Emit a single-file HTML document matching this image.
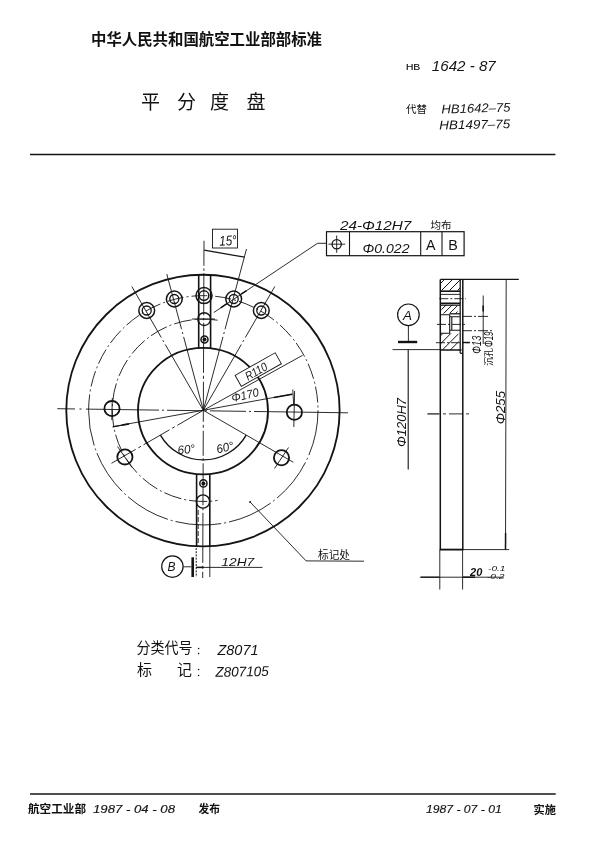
<!DOCTYPE html>
<html lang="zh"><head><meta charset="utf-8"><title>HB 1642-87 平分度盘</title>
<style>
html,body{margin:0;padding:0;background:#fff}
body{width:600px;height:863px;overflow:hidden;font-family:"Liberation Sans",sans-serif}
svg{display:block;font-family:"Liberation Sans",sans-serif;filter:grayscale(1)}
.cjk{font-family:"Liberation Sans","Noto Sans CJK SC",sans-serif}
</style></head><body>
<svg width="600" height="863" viewBox="0 0 600 863">
<rect width="600" height="863" fill="#fff"/>
<g><title>中华人民共和国航空工业部部标准</title><text class="cjk" x="91" y="44.6" font-size="15.4" font-weight="bold" fill="#111" textLength="231" lengthAdjust="spacingAndGlyphs">中华人民共和国航空工业部部标准</text></g>
<g><title>平分度盘</title><text class="cjk" x="141 177 210 246.5" y="108.5" font-size="19" fill="#111">平分度盘</text></g>
<text x="405.9" y="69.8" font-size="8.8" fill="#141414" stroke="#141414" stroke-width="0.15" textLength="14.4" lengthAdjust="spacingAndGlyphs">HB</text>
<g transform="translate(431.8 70.8)"><title>1642 - 87</title><text x="0" y="0" font-size="14" font-style="italic" fill="#141414" textLength="64" lengthAdjust="spacingAndGlyphs">1642 - 87</text></g>
<g><title>代替</title><text class="cjk" x="406" y="113.3" font-size="10.5" fill="#111" textLength="21" lengthAdjust="spacingAndGlyphs">代替</text></g>
<g transform="translate(441.5 113.4) rotate(-1.5)"><title>HB1642–75</title><text x="0" y="0" font-size="12.6" font-style="italic" fill="#141414" textLength="69" lengthAdjust="spacingAndGlyphs">HB1642–75</text></g>
<g transform="translate(439.3 129.4) rotate(-1)"><title>HB1497–75</title><text x="0" y="0" font-size="12.6" font-style="italic" fill="#141414" textLength="71" lengthAdjust="spacingAndGlyphs">HB1497–75</text></g>
<line x1="30" y1="154.6" x2="555.4" y2="154.6" stroke="#141414" stroke-width="1.5"/>
<line x1="30" y1="794" x2="555.7" y2="794" stroke="#141414" stroke-width="1.3"/>
<g><title>航空工业部</title><text class="cjk" x="28" y="813" font-size="11.5" font-weight="bold" fill="#111" textLength="58" lengthAdjust="spacingAndGlyphs">航空工业部</text></g>
<text x="93" y="812.6" font-size="10.6" fill="#141414" stroke="#141414" stroke-width="0.15" font-style="italic" textLength="82" lengthAdjust="spacingAndGlyphs">1987 - 04 - 08</text>
<g><title>发布</title><text class="cjk" x="198.5" y="813.2" font-size="11" font-weight="bold" fill="#111" textLength="21.5" lengthAdjust="spacingAndGlyphs">发布</text></g>
<text x="426" y="813.2" font-size="10.6" fill="#141414" stroke="#141414" stroke-width="0.15" font-style="italic" textLength="75.7" lengthAdjust="spacingAndGlyphs">1987 - 07 - 01</text>
<g><title>实施</title><text class="cjk" x="533.6" y="814.2" font-size="11" font-weight="bold" fill="#111" textLength="22.4" lengthAdjust="spacingAndGlyphs">实施</text></g>
<g><title>分类代号</title><text class="cjk" x="136.5" y="652.5" font-size="15" fill="#111" textLength="56" lengthAdjust="spacingAndGlyphs">分类代号</text></g>
<circle cx="198.6" cy="648.5" r="0.8" fill="#141414" stroke="#141414" stroke-width="0"/>
<circle cx="198.6" cy="653.6" r="0.8" fill="#141414" stroke="#141414" stroke-width="0"/>
<g transform="translate(217.5 654.5)"><title>Z8071</title><text x="0" y="0" font-size="14" font-style="italic" fill="#141414" textLength="41" lengthAdjust="spacingAndGlyphs">Z8071</text></g>
<g><title>标记</title><text class="cjk" x="137 177" y="675" font-size="15" fill="#111">标记</text></g>
<circle cx="198.6" cy="669.5" r="0.8" fill="#141414" stroke="#141414" stroke-width="0"/>
<circle cx="198.6" cy="675.5" r="0.8" fill="#141414" stroke="#141414" stroke-width="0"/>
<g transform="translate(215.4 676.8) rotate(-1)"><title>Z807105</title><text x="0" y="0" font-size="14" font-style="italic" fill="#141414" textLength="53.5" lengthAdjust="spacingAndGlyphs">Z807105</text></g>
<ellipse cx="202.95" cy="410.5" rx="136.65" ry="135.8" fill="none" stroke="#141414" stroke-width="1.85"/>
<ellipse cx="203" cy="411.1" rx="65" ry="63.2" fill="none" stroke="#141414" stroke-width="1.85"/>
<path d="M88.6 410.3A114.7 114.7 0 0 1 318 410.3" fill="none" stroke="#141414" stroke-width="0.9" stroke-dasharray="16 3 2 3"/>
<path d="M318 410.3A114.7 114.7 0 0 1 88.6 410.3" fill="none" stroke="#141414" stroke-width="0.9" stroke-dasharray="46 3 2 3"/>
<path d="M217.6 320.2A91.2 91.2 0 1 0 217.6 500.4" fill="none" stroke="#141414" stroke-width="0.9" stroke-dasharray="18 3 2 3"/>
<line x1="57.3" y1="408.7" x2="348" y2="412.8" stroke="#141414" stroke-width="0.9" stroke-dasharray="17.7 4.5 2 4.5 73 3 2 3 35 3 2 3 36 3 2 3 200"/>
<line x1="204" y1="240.8" x2="202.7" y2="578" stroke="#141414" stroke-width="0.9" stroke-dasharray="25 2.5 2.5 2.5 42 2.5 2.5 2.5 50 3 3 3 40 3 3 3"/>
<line x1="203.3" y1="410.3" x2="131.8" y2="286.5" stroke="#141414" stroke-width="0.9" stroke-dasharray="76 3 2 3 200"/>
<line x1="203.3" y1="410.3" x2="166.8" y2="274.1" stroke="#141414" stroke-width="0.9" stroke-dasharray="76 3 2 3 200"/>
<line x1="203.3" y1="410.3" x2="246.5" y2="249" stroke="#141414" stroke-width="0.9" stroke-dasharray="76 3 2 3 200"/>
<line x1="203.3" y1="410.3" x2="274.8" y2="286.5" stroke="#141414" stroke-width="0.9" stroke-dasharray="76 3 2 3 200"/>
<circle cx="146.7" cy="310.5" r="7.9" fill="none" stroke="#141414" stroke-width="1.5"/>
<circle cx="146.7" cy="310.5" r="4.5" fill="none" stroke="#141414" stroke-width="1.3"/>
<circle cx="174.3" cy="299" r="7.9" fill="none" stroke="#141414" stroke-width="1.5"/>
<circle cx="174.3" cy="299" r="4.5" fill="none" stroke="#141414" stroke-width="1.3"/>
<circle cx="233.7" cy="299" r="7.9" fill="none" stroke="#141414" stroke-width="1.5"/>
<circle cx="233.7" cy="299" r="4.5" fill="none" stroke="#141414" stroke-width="1.3"/>
<circle cx="261.3" cy="310.5" r="7.9" fill="none" stroke="#141414" stroke-width="1.5"/>
<circle cx="261.3" cy="310.5" r="4.5" fill="none" stroke="#141414" stroke-width="1.3"/>
<circle cx="204" cy="295.6" r="8" fill="none" stroke="#141414" stroke-width="1.5"/>
<circle cx="204" cy="295.6" r="4.8" fill="none" stroke="#141414" stroke-width="1.4"/>
<line x1="198.7" y1="274.6" x2="198.7" y2="348" stroke="#141414" stroke-width="1.6"/>
<line x1="210.6" y1="274.8" x2="210.6" y2="348.4" stroke="#141414" stroke-width="1.6"/>
<circle cx="204.2" cy="319.1" r="6.4" fill="none" stroke="#141414" stroke-width="1.4"/>
<line x1="192" y1="319" x2="215" y2="319" stroke="#141414" stroke-width="0.9"/>
<circle cx="204.5" cy="339.4" r="3.5" fill="none" stroke="#141414" stroke-width="1.5"/>
<circle cx="204.5" cy="339.4" r="2" fill="#141414" stroke="#141414" stroke-width="0"/>
<line x1="196.6" y1="474" x2="196.6" y2="546.2" stroke="#141414" stroke-width="1.6"/>
<line x1="209.8" y1="474.2" x2="209.8" y2="546" stroke="#141414" stroke-width="1.6"/>
<line x1="209.8" y1="546" x2="209.8" y2="577" stroke="#141414" stroke-width="0.9"/>
<line x1="196.2" y1="548" x2="196.2" y2="577" stroke="#141414" stroke-width="1.0" stroke-dasharray="2 1.2"/>
<line x1="198.2" y1="510" x2="198.2" y2="545" stroke="#141414" stroke-width="0.9" stroke-dasharray="5 2"/>
<circle cx="203" cy="501.5" r="6.6" fill="none" stroke="#141414" stroke-width="1.4"/>
<circle cx="203.4" cy="483.4" r="3.6" fill="none" stroke="#141414" stroke-width="1.5"/>
<circle cx="203.4" cy="483.4" r="2" fill="#141414" stroke="#141414" stroke-width="0"/>
<circle cx="112" cy="408.6" r="7.6" fill="none" stroke="#141414" stroke-width="1.8"/>
<circle cx="294.4" cy="412.2" r="7.6" fill="none" stroke="#141414" stroke-width="1.8"/>
<circle cx="124.9" cy="456.9" r="7.6" fill="none" stroke="#141414" stroke-width="1.8"/>
<circle cx="281.5" cy="457.8" r="7.6" fill="none" stroke="#141414" stroke-width="1.8"/>
<line x1="112.3" y1="398" x2="111.8" y2="420" stroke="#141414" stroke-width="0.9"/>
<line x1="294.6" y1="391" x2="293.8" y2="427" stroke="#141414" stroke-width="0.9"/>
<line x1="203.3" y1="410.3" x2="111.5" y2="463.3" stroke="#141414" stroke-width="0.9" stroke-dasharray="30 3 3 3"/>
<line x1="203.3" y1="410.3" x2="293.4" y2="462.3" stroke="#141414" stroke-width="0.9"/>
<line x1="274.5" y1="468.5" x2="288.5" y2="447.5" stroke="#141414" stroke-width="0.9"/>
<line x1="117.5" y1="446.5" x2="132" y2="467.5" stroke="#141414" stroke-width="0.9"/>
<path d="M160.4 435.1A49.5 49.5 0 0 0 246.2 435.1" fill="none" stroke="#141414" stroke-width="1.4"/>
<g transform="translate(178 454.3) rotate(-6)"><title>60°</title><text x="0" y="0" font-size="12" font-style="italic" fill="#141414" textLength="17.5" lengthAdjust="spacingAndGlyphs">60°</text></g>
<g transform="translate(217.5 453.6) rotate(-14)"><title>60°</title><text x="0" y="0" font-size="12" font-style="italic" fill="#141414" textLength="17.5" lengthAdjust="spacingAndGlyphs">60°</text></g>
<line x1="203.3" y1="410.3" x2="302.6" y2="355.3" stroke="#141414" stroke-width="0.9"/>
<g transform="translate(241.3 386.3) rotate(-29.4)"><rect x="0" y="-12.6" width="46" height="12.6" fill="#fff" stroke="#141414" stroke-width="0.9"/><g transform="translate(8.5 -1.6)"><title>R110</title><text x="0" y="0" font-size="12" font-style="italic" fill="#141414" textLength="23.4" lengthAdjust="spacingAndGlyphs">R110</text></g></g>
<line x1="112.8" y1="426.7" x2="292.3" y2="394.1" stroke="#141414" stroke-width="0.9"/>
<line x1="112.7" y1="426.9" x2="122" y2="425.2" stroke="#141414" stroke-width="1.1"/>
<line x1="122" y1="425.2" x2="129" y2="423.9" stroke="#141414" stroke-width="1.7"/>
<line x1="292.3" y1="394.2" x2="274" y2="397.5" stroke="#141414" stroke-width="1.4"/>
<line x1="292.8" y1="389.5" x2="293.6" y2="404" stroke="#141414" stroke-width="0.9"/>
<g transform="translate(232.5 402.2) rotate(-13)"><title>Φ170</title><text x="0" y="0" font-size="11.8" font-style="italic" fill="#141414" textLength="27.6" lengthAdjust="spacingAndGlyphs">Φ170</text></g>
<rect x="212.5" y="229.2" width="25" height="18.8" fill="none" stroke="#141414" stroke-width="0.9"/>
<g transform="translate(219.5 245.8) rotate(-3)"><title>15°</title><text x="0" y="0" font-size="14" font-style="italic" fill="#141414" textLength="17.4" lengthAdjust="spacingAndGlyphs">15°</text></g>
<line x1="204.2" y1="250.2" x2="244.6" y2="257.2" stroke="#141414" stroke-width="1.25"/>
<line x1="326.5" y1="243.3" x2="317.5" y2="243.3" stroke="#141414" stroke-width="0.9"/>
<line x1="317.5" y1="243.3" x2="213.8" y2="312.5" stroke="#141414" stroke-width="0.9"/>
<line x1="241.1" y1="294.2" x2="246.5" y2="290.6" stroke="#141414" stroke-width="1.5"/>
<line x1="226.9" y1="303.6" x2="220.7" y2="307.8" stroke="#141414" stroke-width="1.5"/>
<circle cx="250.1" cy="502" r="1" fill="#141414" stroke="#141414" stroke-width="0"/>
<line x1="250.1" y1="502" x2="306.1" y2="560.9" stroke="#141414" stroke-width="0.9"/>
<line x1="306.1" y1="560.9" x2="364" y2="561.2" stroke="#141414" stroke-width="0.9"/>
<g><title>标记处</title><text class="cjk" x="318" y="558.8" font-size="11" fill="#111" textLength="32" lengthAdjust="spacingAndGlyphs">标记处</text></g>
<circle cx="172.4" cy="566.6" r="10.7" fill="none" stroke="#141414" stroke-width="1.2"/>
<g transform="translate(167.5 571.4)"><title>B</title><text x="0" y="0" font-size="12" font-style="italic" fill="#141414">B</text></g>
<line x1="183.1" y1="566.8" x2="191.5" y2="566.8" stroke="#141414" stroke-width="0.9"/>
<line x1="192.7" y1="557.3" x2="192.7" y2="577" stroke="#141414" stroke-width="2.6"/>
<line x1="196.5" y1="567.4" x2="262.5" y2="567.4" stroke="#141414" stroke-width="0.9"/>
<line x1="196.2" y1="567.4" x2="203.6" y2="567.4" stroke="#141414" stroke-width="1.5"/>
<g transform="translate(220.3 565.6)"><title>12H7</title><text x="1" y="0" font-size="10.4" font-style="italic" fill="#141414" textLength="33" lengthAdjust="spacingAndGlyphs">12H7</text></g>
<rect x="326.5" y="231.7" width="137.6" height="24" fill="none" stroke="#141414" stroke-width="1.2"/>
<line x1="349.5" y1="231.7" x2="349.5" y2="255.7" stroke="#141414" stroke-width="1.1"/>
<line x1="420.7" y1="231.7" x2="420.7" y2="255.7" stroke="#141414" stroke-width="1.1"/>
<line x1="442" y1="231.7" x2="442" y2="255.7" stroke="#141414" stroke-width="1.1"/>
<circle cx="336.7" cy="244.2" r="4.6" fill="none" stroke="#141414" stroke-width="1.3"/>
<line x1="328.5" y1="244.2" x2="345.2" y2="244.2" stroke="#141414" stroke-width="0.9"/>
<line x1="336.7" y1="235.5" x2="336.7" y2="252.8" stroke="#141414" stroke-width="0.9"/>
<g transform="translate(362 252.6)"><title>Φ0.022</title><text x="0.5" y="0" font-size="13.7" font-style="italic" fill="#141414" textLength="47" lengthAdjust="spacingAndGlyphs">Φ0.022</text></g>
<g transform="translate(426 250.3)"><title>A</title><text x="0" y="0" font-size="14.3" fill="#141414" textLength="9.5" lengthAdjust="spacingAndGlyphs">A</text></g>
<g transform="translate(449 250.3)"><title>B</title><text x="-0.8" y="0" font-size="14.3" fill="#141414">B</text></g>
<g transform="translate(339.9 229.5)"><title>24-Φ12H7</title><text x="0" y="0" font-size="12" font-style="italic" fill="#141414" textLength="71.4" lengthAdjust="spacingAndGlyphs">24-Φ12H7</text></g>
<g><title>均布</title><text class="cjk" x="430.5" y="229.3" font-size="10.5" fill="#111" textLength="21" lengthAdjust="spacingAndGlyphs">均布</text></g>
<line x1="440.3" y1="279.4" x2="440.3" y2="549.6" stroke="#141414" stroke-width="1.5"/>
<line x1="462.8" y1="279.4" x2="462.8" y2="549.6" stroke="#141414" stroke-width="1.5"/>
<line x1="440.3" y1="279.4" x2="518.8" y2="279.4" stroke="#141414" stroke-width="1.25"/>
<line x1="439.7" y1="549.6" x2="463.4" y2="549.6" stroke="#141414" stroke-width="1.85"/>
<line x1="462.8" y1="549.6" x2="509.2" y2="549.6" stroke="#141414" stroke-width="0.9"/>
<line x1="460.2" y1="279.4" x2="460.2" y2="353.3" stroke="#141414" stroke-width="1.25"/>
<line x1="460.2" y1="353.3" x2="462.8" y2="353.3" stroke="#141414" stroke-width="1.25"/>
<clipPath id="c115"><rect x="440.3" y="279.4" width="19.9" height="11.3"/></clipPath><g clip-path="url(#c115)"><line x1="401.3" y1="290.7" x2="412.6" y2="279.4" stroke="#141414" stroke-width="1.0"/><line x1="409.3" y1="290.7" x2="420.6" y2="279.4" stroke="#141414" stroke-width="1.0"/><line x1="417.3" y1="290.7" x2="428.6" y2="279.4" stroke="#141414" stroke-width="1.0"/><line x1="425.3" y1="290.7" x2="436.6" y2="279.4" stroke="#141414" stroke-width="1.0"/><line x1="433.3" y1="290.7" x2="444.6" y2="279.4" stroke="#141414" stroke-width="1.0"/><line x1="441.3" y1="290.7" x2="452.6" y2="279.4" stroke="#141414" stroke-width="1.0"/><line x1="449.3" y1="290.7" x2="460.6" y2="279.4" stroke="#141414" stroke-width="1.0"/><line x1="457.3" y1="290.7" x2="468.6" y2="279.4" stroke="#141414" stroke-width="1.0"/><line x1="465.3" y1="290.7" x2="476.6" y2="279.4" stroke="#141414" stroke-width="1.0"/><line x1="473.3" y1="290.7" x2="484.6" y2="279.4" stroke="#141414" stroke-width="1.0"/><line x1="481.3" y1="290.7" x2="492.6" y2="279.4" stroke="#141414" stroke-width="1.0"/><line x1="489.3" y1="290.7" x2="500.6" y2="279.4" stroke="#141414" stroke-width="1.0"/><line x1="497.3" y1="290.7" x2="508.6" y2="279.4" stroke="#141414" stroke-width="1.0"/></g>
<line x1="440.3" y1="291.2" x2="460.2" y2="291.2" stroke="#141414" stroke-width="1.6"/>
<line x1="440.3" y1="294.4" x2="460.2" y2="294.4" stroke="#141414" stroke-width="0.9"/>
<line x1="439.3" y1="298.7" x2="466" y2="298.7" stroke="#141414" stroke-width="0.9" stroke-dasharray="9 2 2 2"/>
<line x1="440.3" y1="303.3" x2="460.2" y2="303.3" stroke="#141414" stroke-width="1.6"/>
<clipPath id="c120"><rect x="441.3" y="304.5" width="16.2" height="9.3"/></clipPath><g clip-path="url(#c120)"><line x1="401.3" y1="313.8" x2="410.6" y2="304.5" stroke="#141414" stroke-width="1.0"/><line x1="407.3" y1="313.8" x2="416.6" y2="304.5" stroke="#141414" stroke-width="1.0"/><line x1="413.3" y1="313.8" x2="422.6" y2="304.5" stroke="#141414" stroke-width="1.0"/><line x1="419.3" y1="313.8" x2="428.6" y2="304.5" stroke="#141414" stroke-width="1.0"/><line x1="425.3" y1="313.8" x2="434.6" y2="304.5" stroke="#141414" stroke-width="1.0"/><line x1="431.3" y1="313.8" x2="440.6" y2="304.5" stroke="#141414" stroke-width="1.0"/><line x1="437.3" y1="313.8" x2="446.6" y2="304.5" stroke="#141414" stroke-width="1.0"/><line x1="443.3" y1="313.8" x2="452.6" y2="304.5" stroke="#141414" stroke-width="1.0"/><line x1="449.3" y1="313.8" x2="458.6" y2="304.5" stroke="#141414" stroke-width="1.0"/><line x1="455.3" y1="313.8" x2="464.6" y2="304.5" stroke="#141414" stroke-width="1.0"/><line x1="461.3" y1="313.8" x2="470.6" y2="304.5" stroke="#141414" stroke-width="1.0"/><line x1="467.3" y1="313.8" x2="476.6" y2="304.5" stroke="#141414" stroke-width="1.0"/><line x1="473.3" y1="313.8" x2="482.6" y2="304.5" stroke="#141414" stroke-width="1.0"/><line x1="479.3" y1="313.8" x2="488.6" y2="304.5" stroke="#141414" stroke-width="1.0"/><line x1="485.3" y1="313.8" x2="494.6" y2="304.5" stroke="#141414" stroke-width="1.0"/><line x1="491.3" y1="313.8" x2="500.6" y2="304.5" stroke="#141414" stroke-width="1.0"/><line x1="497.3" y1="313.8" x2="506.6" y2="304.5" stroke="#141414" stroke-width="1.0"/></g>
<line x1="440.3" y1="305.2" x2="460.2" y2="305.2" stroke="#141414" stroke-width="1.25"/>
<path d="M440.3 314.7H449.7V333.3H440.3 M449.7 316.7H460 M449.7 330.2H460 M451.8 316.7V330.2" fill="none" stroke="#141414" stroke-width="1.1"/>
<line x1="450" y1="313.8" x2="460.2" y2="313.8" stroke="#141414" stroke-width="1.25"/>
<clipPath id="c124"><rect x="440.3" y="333.3" width="18.2" height="16.7"/></clipPath><g clip-path="url(#c124)"><line x1="402.3" y1="350" x2="419" y2="333.3" stroke="#141414" stroke-width="1.0"/><line x1="410.3" y1="350" x2="427" y2="333.3" stroke="#141414" stroke-width="1.0"/><line x1="418.3" y1="350" x2="435" y2="333.3" stroke="#141414" stroke-width="1.0"/><line x1="426.3" y1="350" x2="443" y2="333.3" stroke="#141414" stroke-width="1.0"/><line x1="434.3" y1="350" x2="451" y2="333.3" stroke="#141414" stroke-width="1.0"/><line x1="442.3" y1="350" x2="459" y2="333.3" stroke="#141414" stroke-width="1.0"/><line x1="450.3" y1="350" x2="467" y2="333.3" stroke="#141414" stroke-width="1.0"/><line x1="458.3" y1="350" x2="475" y2="333.3" stroke="#141414" stroke-width="1.0"/><line x1="466.3" y1="350" x2="483" y2="333.3" stroke="#141414" stroke-width="1.0"/><line x1="474.3" y1="350" x2="491" y2="333.3" stroke="#141414" stroke-width="1.0"/><line x1="482.3" y1="350" x2="499" y2="333.3" stroke="#141414" stroke-width="1.0"/><line x1="490.3" y1="350" x2="507" y2="333.3" stroke="#141414" stroke-width="1.0"/><line x1="498.3" y1="350" x2="515" y2="333.3" stroke="#141414" stroke-width="1.0"/></g>
<line x1="440.3" y1="350" x2="461.5" y2="350" stroke="#141414" stroke-width="1.5"/>
<line x1="392.5" y1="349.6" x2="440.3" y2="349.6" stroke="#141414" stroke-width="0.9"/>
<line x1="462" y1="316.4" x2="488" y2="316.4" stroke="#141414" stroke-width="0.9" stroke-dasharray="10 2 2 2"/>
<line x1="437" y1="324.4" x2="466" y2="324.4" stroke="#141414" stroke-width="0.9" stroke-dasharray="9 2 2 2"/>
<line x1="462" y1="330.7" x2="492" y2="330.7" stroke="#141414" stroke-width="0.9" stroke-dasharray="10 2 2 2"/>
<line x1="463" y1="342.5" x2="470" y2="342.5" stroke="#141414" stroke-width="1.4"/>
<line x1="436" y1="342.7" x2="469" y2="342.7" stroke="#141414" stroke-width="0.9" stroke-dasharray="9 2 2 2"/>
<line x1="483.2" y1="295.5" x2="483.2" y2="344" stroke="#141414" stroke-width="0.9"/>
<line x1="483.2" y1="305.5" x2="483.2" y2="311.5" stroke="#141414" stroke-width="1.6"/>
<g transform="translate(480.8 354.2) rotate(-90)"><title>Φ13</title><text x="0.5" y="0" font-size="12" font-style="italic" fill="#141414" textLength="18" lengthAdjust="spacingAndGlyphs">Φ13</text></g>
<g transform="translate(493.2 365.8) rotate(-90)"><g><title>沉孔</title><text class="cjk" x="0" y="-0.8" font-size="9" fill="#111" textLength="17.8" lengthAdjust="spacingAndGlyphs">沉孔</text></g><g transform="translate(18.3 -0.2)"><title>Φ19</title><text x="0.5" y="0" font-size="13" font-style="italic" fill="#141414" textLength="15.5" lengthAdjust="spacingAndGlyphs">Φ19</text></g></g>
<line x1="427.4" y1="413.9" x2="439.5" y2="413.9" stroke="#141414" stroke-width="1.2"/>
<line x1="443" y1="413.9" x2="470" y2="413.9" stroke="#141414" stroke-width="0.9" stroke-dasharray="3 3 14 3"/>
<line x1="506.2" y1="279.4" x2="505.5" y2="549.6" stroke="#141414" stroke-width="0.9"/>
<line x1="505.6" y1="533" x2="505.5" y2="549.6" stroke="#141414" stroke-width="1.5"/>
<g transform="translate(504.8 424.8) rotate(-90)"><title>Φ255</title><text x="0.5" y="0" font-size="13.4" font-style="italic" fill="#141414" textLength="33.5" lengthAdjust="spacingAndGlyphs">Φ255</text></g>
<line x1="408.2" y1="349.6" x2="408.2" y2="469.5" stroke="#141414" stroke-width="1.1"/>
<g transform="translate(405.8 447.5) rotate(-90)"><title>Φ120H7</title><text x="0.5" y="0" font-size="12.7" font-style="italic" fill="#141414" textLength="49" lengthAdjust="spacingAndGlyphs">Φ120H7</text></g>
<circle cx="408.4" cy="314.8" r="10.8" fill="none" stroke="#141414" stroke-width="1.2"/>
<g transform="translate(403.6 320)"><title>A</title><text x="-0.5" y="0" font-size="13.4" font-style="italic" fill="#141414">A</text></g>
<line x1="408.4" y1="325.6" x2="408.4" y2="341" stroke="#141414" stroke-width="0.9"/>
<line x1="398" y1="342" x2="417.2" y2="342" stroke="#141414" stroke-width="2.4"/>
<line x1="439.8" y1="549.6" x2="439.8" y2="589.5" stroke="#141414" stroke-width="0.9"/>
<line x1="462.6" y1="549.6" x2="462.6" y2="589.5" stroke="#141414" stroke-width="0.9"/>
<line x1="419.8" y1="577.2" x2="503.8" y2="577.2" stroke="#141414" stroke-width="0.9"/>
<line x1="421" y1="577.2" x2="439.4" y2="577.2" stroke="#141414" stroke-width="1.2"/>
<line x1="463" y1="577.2" x2="475" y2="577.2" stroke="#141414" stroke-width="1.5"/>
<g transform="translate(470 576)"><title>20</title><text x="0" y="0" font-size="11.2" font-style="italic" font-weight="bold" fill="#141414" textLength="12.3" lengthAdjust="spacingAndGlyphs">20</text></g>
<g transform="translate(487.5 571.3)"><title>-0.1</title><text x="0.5" y="0" font-size="6.5" font-style="italic" fill="#141414" textLength="17.5" lengthAdjust="spacingAndGlyphs">-0.1</text></g>
<g transform="translate(486.3 578.8)"><title>-0.2</title><text x="0.5" y="0" font-size="6.5" font-style="italic" fill="#141414" textLength="17.7" lengthAdjust="spacingAndGlyphs">-0.2</text></g>
</svg>
</body></html>
